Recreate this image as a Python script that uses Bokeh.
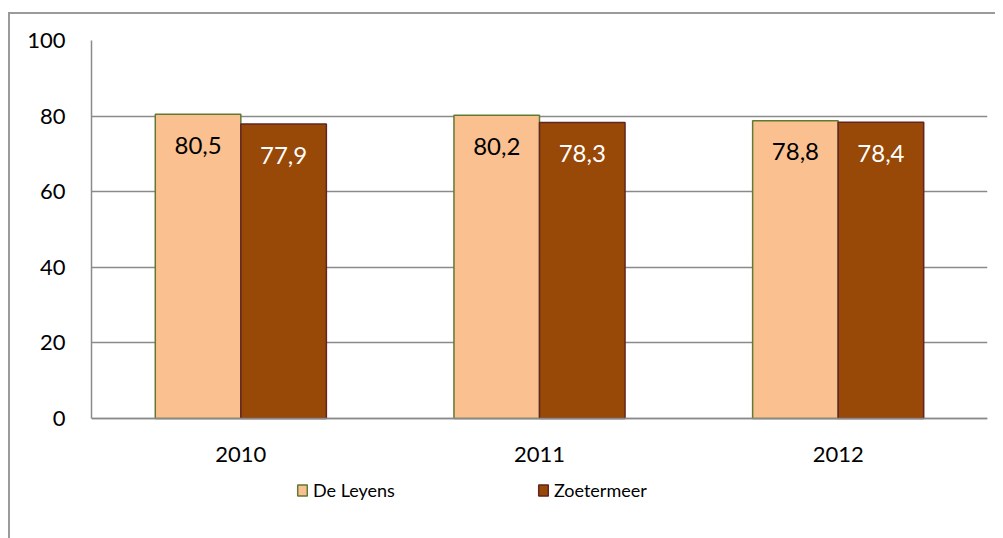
from bokeh.plotting import figure
from bokeh.models import ColumnDataSource, FactorRange, Range1d, FixedTicker, Legend, LegendItem
from bokeh.transform import dodge
from bokeh.core.properties import value
from bokeh.embed import file_html
from bokeh.resources import INLINE

years = ["2010", "2011", "2012"]
de_leyens = [80.5, 80.2, 78.8]
zoetermeer = [77.9, 78.3, 78.4]
series_names = ["De Leyens", "Zoetermeer"]
y_ticks = [0, 20, 40, 60, 80, 100]

def fmt(v):
    return f"{v:.1f}".replace(".", ",")

src = ColumnDataSource(dict(
    year=years,
    leyens=de_leyens,
    zoeter=zoetermeer,
    leyens_lbl=[fmt(v) for v in de_leyens],
    zoeter_lbl=[fmt(v) for v in zoetermeer],
))

FONT = "Lato"
GRID = "#8a8a8a"

# the frame reaches below the value axis so that the legend sits inside it
PX_PER_UNIT = 378 / 100
FRAME_H = 498
Y_MIN = -(FRAME_H - 378) / PX_PER_UNIT

p = figure(
    frame_width=896, frame_height=FRAME_H,
    x_range=FactorRange(*years, range_padding=0),
    y_range=Range1d(Y_MIN, 100),
    output_backend="svg", toolbar_location=None,
    min_border_left=81, min_border_right=8, min_border_top=26, min_border_bottom=0,
)
p.styles = {"border-left": "2px solid #9a9a9a", "border-top": "2px solid #9a9a9a",
            "margin-top": "12px", "margin-left": "8px"}
p.outline_line_color = None
p.background_fill_color = "white"
p.border_fill_color = "white"

bw = 0.2864
r1 = p.vbar(x=dodge("year", -bw / 2, range=p.x_range), top="leyens", width=bw, source=src,
            fill_color="#FAC090", line_color="#5e7a33", line_width=1.5)
r2 = p.vbar(x=dodge("year", bw / 2, range=p.x_range), top="zoeter", width=bw, source=src,
            fill_color="#984807", line_color="#632523", line_width=1.5)

p.text(x=dodge("year", -bw / 2, range=p.x_range), y="leyens", text="leyens_lbl", source=src,
       text_font=value(FONT), text_font_size="24px", text_color="black",
       text_align="center", text_baseline="middle", y_offset=31)
p.text(x=dodge("year", bw / 2, range=p.x_range), y="zoeter", text="zoeter_lbl", source=src,
       text_font=value(FONT), text_font_size="24px", text_color="white",
       text_align="center", text_baseline="middle", y_offset=31)

# axes
p.yaxis.ticker = FixedTicker(ticks=y_ticks)
p.yaxis.bounds = (0, 100)
p.yaxis.major_tick_out = 0
p.yaxis.major_tick_in = 0
p.yaxis.minor_tick_out = 0
p.yaxis.minor_tick_in = 0
p.yaxis.axis_line_color = GRID
p.yaxis.axis_line_width = 1.5
p.yaxis.major_label_standoff = 26
p.yaxis.major_label_text_font = FONT
p.yaxis.major_label_text_font_size = "22px"
p.yaxis.major_label_text_color = "black"

p.xaxis.fixed_location = 0
p.xaxis.major_tick_out = 0
p.xaxis.major_tick_in = 0
p.xaxis.axis_line_color = GRID
p.xaxis.axis_line_width = 1.5
p.xaxis.major_label_standoff = 28
p.xaxis.major_label_text_font = FONT
p.xaxis.major_label_text_font_size = "22px"
p.xaxis.major_label_text_color = "black"

p.xgrid.grid_line_color = None
p.ygrid.grid_line_color = GRID
p.ygrid.grid_line_width = 1.5

leg = Legend(items=[LegendItem(label=series_names[0], renderers=[r1]),
                    LegendItem(label=series_names[1], renderers=[r2])],
             location=(205, 37), orientation="horizontal", padding=0, margin=0, spacing=142,
             glyph_width=12, glyph_height=14, label_standoff=5,
             label_text_font=FONT, label_text_font_size="18px", label_text_color="black",
             border_line_color=None, background_fill_alpha=0)
p.add_layout(leg, "center")

open("out.html", "w").write(file_html(p, INLINE))
